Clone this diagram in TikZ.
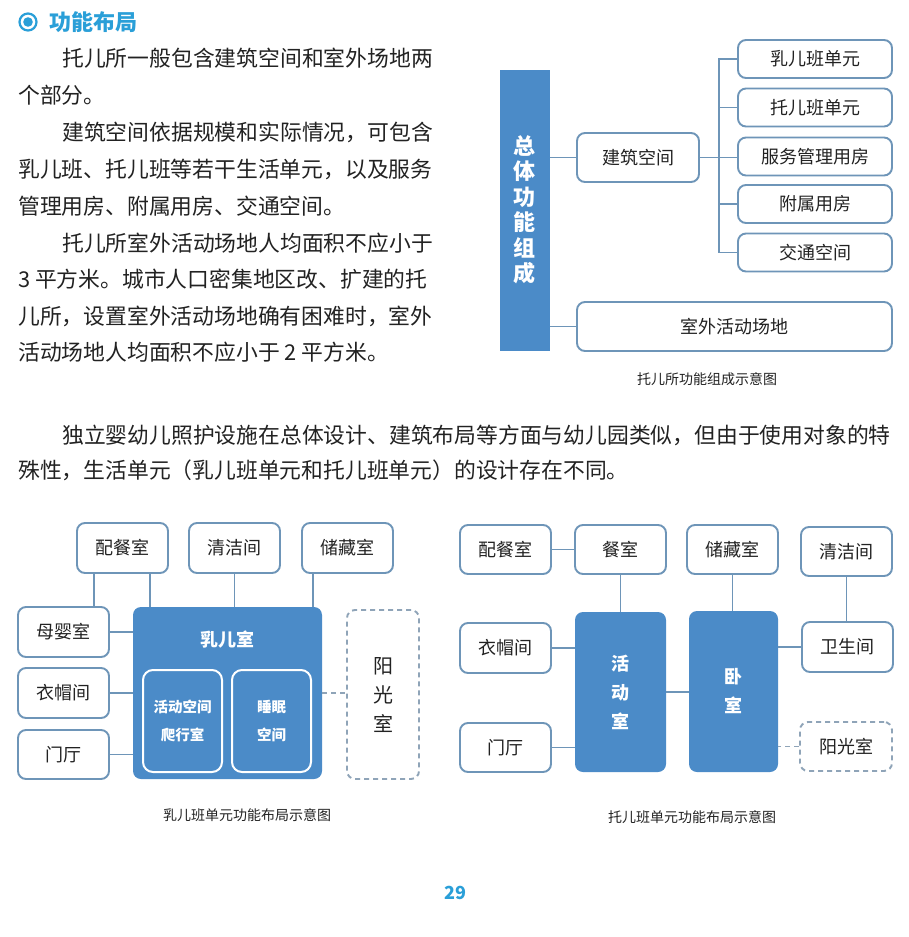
\documentclass[tikz,border=0pt]{standalone}
\usepackage{fontspec}
\setmainfont{Noto Sans CJK SC}
\definecolor{titleblue}{HTML}{2A9FD8}
\definecolor{boxblue}{HTML}{4B8BC8}
\definecolor{bord}{HTML}{6E95B8}
\definecolor{dashc}{HTML}{8FA4B8}
\definecolor{bodytext}{HTML}{222222}
\begin{document}
\begin{tikzpicture}[x=1pt,y=-1pt,
  body/.style={anchor=west,inner sep=0pt,text=bodytext,font=\fontsize{21.8}{26}\selectfont},
  captext/.style={inner sep=0pt,text=bodytext,font=\fontsize{14}{16}\selectfont},
  wbox/.style={draw=bord,line width=1.9pt,rounded corners=8pt,fill=white,inner sep=0pt,
    text=bodytext,font=\fontsize{18}{20}\selectfont},
  bbox/.style={fill=boxblue,rounded corners=8pt,inner sep=0pt},
  ibox/.style={draw=white,line width=2pt,rounded corners=10pt,inner sep=0pt,align=center,
    text=white,font=\fontsize{14.5}{28}\selectfont\bfseries},
  dbox/.style={draw=dashc,line width=1.9pt,dash pattern=on 5pt off 4pt,rounded corners=8pt,
    inner sep=0pt,text=bodytext,align=center},
  conn/.style={draw=bord,line width=1.9pt},
  dconn/.style={draw=dashc,line width=1.9pt,dash pattern=on 5pt off 4pt},
  wt/.style={text=white,inner sep=0pt,align=center}
]
\useasboundingbox (0,0) rectangle (908,937);
\fill[white] (0,0) rectangle (908,937);

% title
\draw[titleblue,line width=2.2pt] (28,22) circle (8.5);
\fill[titleblue] (28,22) circle (4.8);
\node[anchor=west,inner sep=0pt,text=titleblue,font=\fontsize{22}{26}\selectfont\bfseries] (title) at (49,22) {功能布局};

% body text
\node[body] (l1) at (62,58) {托儿所一般包含建筑空间和室外场地两};
\node[body] (l2) at (18,95) {个部分。};
\node[body] (l3) at (62,132) {建筑空间依据规模和实际情况，可包含};
\node[body] (l4) at (18,169) {乳儿班、托儿班等若干生活单元，以及服务};
\node[body] (l5) at (18,206) {管理用房、附属用房、交通空间。};
\node[body] (l6) at (62,243) {托儿所室外活动场地人均面积不应小于};
\node[body] (l7) at (18,279) {3 平方米。城市人口密集地区改、扩建的托};
\node[body] (l8) at (18,316) {儿所，设置室外活动场地确有困难时，室外};
\node[body] (l9) at (18,352) {活动场地人均面积不应小于 2 平方米。};
\node[body] (p1) at (62,435) {独立婴幼儿照护设施在总体设计、建筑布局等方面与幼儿园类似，但由于使用对象的特};
\node[body] (p2) at (18,470) {殊性，生活单元（乳儿班单元和托儿班单元）的设计存在不同。};

% ===== top-right diagram
\node[fill=boxblue,minimum width=50pt,minimum height=281pt,inner sep=0pt,text=white,align=center,
  font=\fontsize{22}{25.5}\selectfont\bfseries] (total) at (524.5,210) {总\\体\\功\\能\\组\\成};
\node[wbox,minimum width=122pt,minimum height=49pt] (build) at (638,157.5) {建筑空间};
\node[wbox,minimum width=154pt,minimum height=38pt] (b1) at (815,59) {乳儿班单元};
\node[wbox,minimum width=154pt,minimum height=38pt] (b2) at (815,107.5) {托儿班单元};
\node[wbox,minimum width=154pt,minimum height=38pt] (b3) at (815,156.5) {服务管理用房};
\node[wbox,minimum width=154pt,minimum height=38pt] (b4) at (815,204) {附属用房};
\node[wbox,minimum width=154pt,minimum height=38pt] (b5) at (815,252.5) {交通空间};
\node[wbox,minimum width=315pt,minimum height=49pt] (outd) at (734.5,326.5) {室外活动场地};
\node[captext] (cap1) at (707,379) {托儿所功能组成示意图};

\draw[conn] (total.east |- build.west) -- (build.west);
\draw[conn] (total.east |- outd.west) -- (outd.west);
\draw[conn] (build.east) -- (build.east -| b3.west);
\draw[conn] (b1.west) -- ++(-18,0) |- (b5.west);
\draw[conn] (b2.west) -- ++(-18,0);
\draw[conn] (b4.west) -- ++(-18,0);

% ===== bottom-left diagram
\node[wbox,minimum width=91pt,minimum height=50pt] (pc1) at (122.5,548) {配餐室};
\node[wbox,minimum width=91pt,minimum height=50pt] (qj1) at (234.5,548) {清洁间};
\node[wbox,minimum width=91pt,minimum height=50pt] (cc1) at (347.5,548) {储藏室};
\node[wbox,minimum width=91pt,minimum height=50pt] (my) at (63.5,632) {母婴室};
\node[wbox,minimum width=91pt,minimum height=50pt] (ym1) at (63.5,693) {衣帽间};
\node[wbox,minimum width=91pt,minimum height=49pt] (mt1) at (63.5,754.5) {门厅};
\node[bbox,minimum width=189pt,minimum height=172pt] (rer) at (227.5,693) {};
\node[wt,font=\fontsize{18}{20}\selectfont\bfseries] (rertitle) at (227.5,640) {乳儿室};
\node[ibox,minimum width=79pt,minimum height=102pt] (in1) at (182.5,721) {活动空间\\爬行室};
\node[ibox,minimum width=79pt,minimum height=102pt] (in2) at (271.5,721) {睡眠\\空间};
\node[dbox,minimum width=72pt,minimum height=169pt,font=\fontsize{20}{29}\selectfont] (ygs1) at (383,694.5) {阳\\光\\室};
\node[captext] (cap2) at (247,815) {乳儿班单元功能布局示意图};

\draw[conn] ([xshift=-28.5pt]pc1.south) -- ([xshift=-28.5pt]pc1.south |- my.north);
\draw[conn] ([xshift=27.5pt]pc1.south) -- ([xshift=27.5pt]pc1.south |- rer.north);
\draw[conn] (qj1.south) -- (qj1.south |- rer.north);
\draw[conn] ([xshift=-34.5pt]cc1.south) -- ([xshift=-34.5pt]cc1.south |- rer.north);
\draw[conn] (my.east) -- (my.east -| rer.west);
\draw[conn] (ym1.east) -- (ym1.east -| rer.west);
\draw[conn] (mt1.east) -- (mt1.east -| rer.west);
\draw[dconn] (rer.east) -- (rer.east -| ygs1.west);

% ===== bottom-right diagram
\node[wbox,minimum width=91pt,minimum height=49pt] (pc2) at (505.5,549.5) {配餐室};
\node[wbox,minimum width=91pt,minimum height=49pt] (cs) at (620.5,549.5) {餐室};
\node[wbox,minimum width=91pt,minimum height=49pt] (cc2) at (732.5,549.5) {储藏室};
\node[wbox,minimum width=91pt,minimum height=49pt] (qj2) at (846.5,551.5) {清洁间};
\node[wbox,minimum width=91pt,minimum height=50pt] (ym2) at (505.5,648) {衣帽间};
\node[bbox,minimum width=91pt,minimum height=160pt,wt,font=\fontsize{18}{29}\selectfont\bfseries] (hds) at (620.5,692) {活\\动\\室};
\node[bbox,minimum width=89pt,minimum height=161pt,wt,font=\fontsize{18}{29}\selectfont\bfseries] (ws) at (733.5,691.5) {卧\\室};
\node[wbox,minimum width=91pt,minimum height=50pt] (wsj) at (847.5,647) {卫生间};
\node[wbox,minimum width=91pt,minimum height=49pt] (mt2) at (505.5,747.5) {门厅};
\node[dbox,minimum width=92pt,minimum height=49pt,font=\fontsize{18}{20}\selectfont] (ygs2) at (846,746.5) {阳光室};
\node[captext] (cap3) at (692,817) {托儿班单元功能布局示意图};

\draw[conn] (pc2.east) -- (cs.west);
\draw[conn] (cs.south) -- (cs.south |- hds.north);
\draw[conn] (cc2.south) -- (cc2.south |- ws.north);
\draw[conn] (qj2.south) -- (qj2.south |- wsj.north);
\draw[conn] (wsj.west) -- (wsj.west -| ws.east);
\draw[conn] (ym2.east) -- (ym2.east -| hds.west);
\draw[conn] (hds.east) -- (hds.east -| ws.west);
\draw[conn] (mt2.east) -- (mt2.east -| hds.west);
\draw[dconn] (ygs2.west) -- (ygs2.west -| ws.east);

% page number
\node[inner sep=0pt,text=titleblue,font=\fontsize{18}{20}\selectfont\bfseries] (pg) at (455,893) {29};
\end{tikzpicture}
\end{document}
